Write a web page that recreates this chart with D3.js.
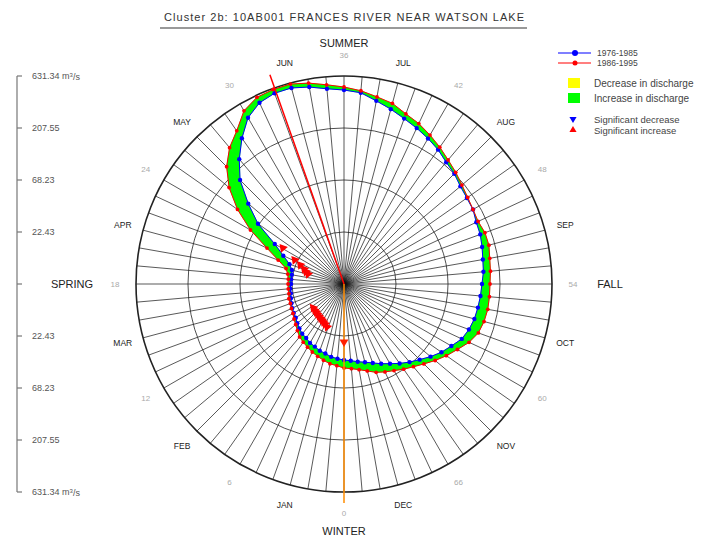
<!DOCTYPE html>
<html>
<head>
<meta charset="utf-8">
<script src="https://cdn.jsdelivr.net/npm/d3@7"></script>
<style>
  body { margin: 0; background: #fff; }
  text { font-family: "Liberation Sans", Arial, sans-serif; }
</style>
</head>
<body>
<div id="main"></div>
<script>
// ---- data (m3/s, one value per 5-day period, 0 = 1 Jan) ----
const chartTitle = "Cluster 2b: 10AB001 FRANCES RIVER NEAR WATSON LAKE";
const periodTicks = [0, 6, 12, 18, 24, 30, 36, 42, 48, 54, 60, 66];
const monthNames = ["JAN", "FEB", "MAR", "APR", "MAY", "JUN", "JUL", "AUG", "SEP", "OCT", "NOV", "DEC"];
const seasonNames = ["WINTER", "SPRING", "SUMMER", "FALL"];
const seasonPeriods = [0, 18, 36, 54];
const ringValues = [22.43, 68.23, 207.55, 631.34];
const centreValue = 7.373;
const axisLabels = ["631.34", "207.55", "68.23", "22.43"];
const seriesNames = ["1976-1985", "1986-1995"];

const flow7685 = [
  37.5, 36.7, 35.9, 34.4, 33.7, 32.3, 31.6, 30.2, 29.6, 28.4, 27.2, 26.0,
  25.5, 25.0, 24.4, 23.9, 23.4, 23.4, 22.9, 22.9, 22.9, 23.4, 25.5, 30.9,
  40.8, 69.7, 106.9, 171.2, 240.9, 332.2, 448.2, 531.8, 567.1, 567.1, 531.8, 488.2,
  467.8, 448.2, 394.2, 354.3, 318.3, 292.2, 268.2, 246.2, 221.2, 207.5, 190.4, 182.5,
  178.6, 167.5, 164.0, 157.1, 150.5, 147.3, 141.2, 138.2, 135.2, 132.4, 126.8, 118.9,
  104.6, 94.0, 82.7, 72.7, 65.3, 58.7, 52.8, 48.4, 44.5, 41.7, 39.9, 38.3
];
const flow8695 = [
  44.5, 42.6, 41.7, 39.9, 38.3, 36.7, 35.1, 33.7, 32.3, 30.2, 28.4, 27.2,
  26.0, 25.5, 25.0, 25.0, 24.4, 24.4, 24.4, 24.4, 25.0, 26.6, 33.0, 45.4,
  74.3, 118.9, 182.5, 256.9, 332.2, 402.7, 531.8, 604.6, 617.7, 617.7, 579.3, 531.8,
  498.7, 467.8, 429.5, 402.7, 354.3, 325.2, 292.2, 262.5, 235.9, 216.5, 198.7, 186.4,
  178.6, 174.8, 182.5, 182.5, 174.8, 171.2, 167.5, 167.5, 167.5, 164.0, 157.1, 141.2,
  121.5, 106.9, 94.0, 82.7, 74.3, 68.2, 62.6, 58.7, 55.1, 50.6, 47.4, 45.4
];

// significant increase markers (period, value)
const sigIncPeriod = [24.1, 23.2, 22.7, 22.1, 21.6, 21.1, 10.5, 9.7, 9.0, 8.3, 7.6, 6.9, 6.3, 5.7, 5.1, 4.3];
const sigIncValue  = [33.7, 23.9, 20.5, 18.4, 17.4, 16.4, 17.0, 17.1, 17.2, 17.4, 17.6, 17.9, 18.2, 18.6, 19.0, 19.8];
const sigArrowPeriod = [0];
const sigArrowValue = [25.5];

// timing vectors (period direction)
const timingPeriods = [32.1, 0];

class DischargeRose {
  constructor(config) {
    this.config = config;
    this.svg = null;
    this.plot = null;
    this.rScale = null;
    this.aScale = null;
    this.createSvg();
    this.createScales();
  }

  createSvg() {
    this.svg = d3.select(this.config.div)
      .append("svg")
      .attr("width", this.config.width)
      .attr("height", this.config.height);
    this.plot = this.svg.append("g")
      .attr("transform", `translate(${this.config.cx},${this.config.cy})`);
  }

  createScales() {
    this.rScale = d3.scaleLog()
      .domain([centreValue, ringValues[ringValues.length - 1]])
      .range([0, this.config.radius]);
    // period 0 at the bottom, going clockwise
    this.aScale = d3.scaleLinear().domain([0, 72]).range([Math.PI, 3 * Math.PI]);
  }

  xy(p, r) {
    let a = this.aScale(p);
    return [r * Math.sin(a), -r * Math.cos(a)];
  }

  renderTitle() {
    this.svg.append("text")
      .attr("x", 344).attr("y", 21)
      .attr("text-anchor", "middle")
      .attr("font-size", 11)
      .attr("textLength", 360)
      .attr("fill", "#333")
      .text(chartTitle);
    this.svg.append("line")
      .attr("x1", 160).attr("x2", 527)
      .attr("y1", 28).attr("y2", 28)
      .attr("stroke", "#999").attr("stroke-width", 2);
  }

  renderGrid() {
    let R = this.config.radius;
    let spokes = d3.range(72);
    this.plot.selectAll(".spoke")
      .data(spokes)
      .enter()
      .append("line")
        .attr("class", "spoke")
        .attr("x1", 0).attr("y1", 0)
        .attr("x2", d => this.xy(d, R)[0])
        .attr("y2", d => this.xy(d, R)[1])
        .attr("stroke", "#111")
        .attr("stroke-width", 0.7);

    this.plot.selectAll(".ring")
      .data(ringValues)
      .enter()
      .append("circle")
        .attr("class", "ring")
        .attr("r", d => this.rScale(d))
        .attr("fill", "none")
        .attr("stroke", "#222")
        .attr("stroke-width", (d, i) => i == ringValues.length - 1 ? 1.6 : 0.8);
  }

  renderLabels() {
    let lr = this.config.labelRadius;
    this.plot.selectAll(".ptick")
      .data(periodTicks)
      .enter()
      .append("text")
        .attr("x", d => this.xy(d, lr)[0])
        .attr("y", d => this.xy(d, lr)[1])
        .attr("text-anchor", "middle")
        .attr("dy", "0.35em")
        .attr("font-size", 8)
        .attr("fill", "#aaa")
        .text(d => d);

    this.plot.selectAll(".month")
      .data(monthNames)
      .enter()
      .append("text")
        .attr("x", (d, i) => this.xy(3 + 6 * i, lr)[0])
        .attr("y", (d, i) => this.xy(3 + 6 * i, lr)[1])
        .attr("text-anchor", "middle")
        .attr("dy", "0.35em")
        .attr("font-size", 8.5)
        .attr("fill", "#222")
        .text(d => d);

    let seasonR = [247, 272, 241, 266];
    this.plot.selectAll(".season")
      .data(seasonNames)
      .enter()
      .append("text")
        .attr("x", (d, i) => this.xy(seasonPeriods[i], seasonR[i])[0])
        .attr("y", (d, i) => this.xy(seasonPeriods[i], seasonR[i])[1])
        .attr("text-anchor", "middle")
        .attr("dy", "0.35em")
        .attr("font-size", 11)
        .attr("fill", "#222")
        .text(d => d);
  }

  renderLeftAxis() {
    let cy = this.config.cy;
    let x0 = 17;
    let ticks = [];
    axisLabels.forEach((l, i) => ticks.push({ y: cy - this.rScale(ringValues[3 - i]), label: l, unit: i == 0 }));
    ticks.push({ y: cy, label: "", unit: false });
    axisLabels.slice().reverse().forEach((l, i) => ticks.push({ y: cy + this.rScale(ringValues[i]), label: l, unit: i == 3 }));

    let g = this.svg.append("g");
    g.append("line")
      .attr("x1", x0).attr("x2", x0)
      .attr("y1", ticks[0].y).attr("y2", ticks[ticks.length - 1].y)
      .attr("stroke", "#777").attr("stroke-width", 1.2);
    g.selectAll(".tk")
      .data(ticks)
      .enter()
      .append("line")
        .attr("x1", x0).attr("x2", x0 + 5)
        .attr("y1", d => d.y).attr("y2", d => d.y)
        .attr("stroke", "#777").attr("stroke-width", 1.2);
    let txt = g.selectAll(".tl")
      .data(ticks)
      .enter()
      .append("text")
        .attr("x", 32)
        .attr("y", d => d.y)
        .attr("dy", "0.35em")
        .attr("font-size", 9)
        .attr("fill", "#555");
    txt.append("tspan").text(d => d.label);
    txt.filter(d => d.unit).append("tspan").text(" m");
    txt.filter(d => d.unit).append("tspan").attr("dy", "-0.4em").attr("font-size", 6).text("3");
    txt.filter(d => d.unit).append("tspan").attr("dy", "0.4em").text("/s");
  }

  renderFill() {
    let area = d3.areaRadial()
      .angle(d => this.aScale(d.p))
      .innerRadius(d => this.rScale(d.a))
      .outerRadius(d => this.rScale(d.b));
    let segs = d3.range(72).map(i => {
      let j = (i + 1) % 72;
      return [
        { p: i, a: flow7685[i], b: flow8695[i] },
        { p: i + 1, a: flow7685[j], b: flow8695[j] }
      ];
    });
    this.plot.selectAll(".seg")
      .data(segs)
      .enter()
      .append("path")
        .attr("d", area)
        .attr("fill", d => (d[0].b + d[1].b) >= (d[0].a + d[1].a) ? "#00ff00" : "#ffff00")
        .attr("stroke", d => (d[0].b + d[1].b) >= (d[0].a + d[1].a) ? "#00ff00" : "#ffff00")
        .attr("stroke-width", 0.5);
  }

  renderSeries(values, color, dotR) {
    let line = d3.lineRadial()
      .angle((d, i) => this.aScale(i))
      .radius(d => this.rScale(d))
      .curve(d3.curveLinearClosed);
    this.plot.append("path")
      .datum(values)
      .attr("d", line)
      .attr("fill", "none")
      .attr("stroke", color)
      .attr("stroke-width", 1);
    this.plot.append("g")
      .selectAll("circle")
      .data(values)
      .enter()
      .append("circle")
        .attr("cx", (d, i) => this.xy(i, this.rScale(d))[0])
        .attr("cy", (d, i) => this.xy(i, this.rScale(d))[1])
        .attr("r", dotR)
        .attr("fill", color);
  }

  renderTiming() {
    let colors = ["#ff0000", "#ff8c00"];
    let len = [222, 219];
    this.plot.selectAll(".timing")
      .data(timingPeriods)
      .enter()
      .append("line")
        .attr("x1", 0).attr("y1", 0)
        .attr("x2", (d, i) => this.xy(d, len[i])[0])
        .attr("y2", (d, i) => this.xy(d, len[i])[1])
        .attr("stroke", (d, i) => colors[i])
        .attr("stroke-width", 1.5);
  }

  renderSignificant() {
    let tri = d3.symbol().type(d3.symbolTriangle).size(34);
    this.plot.selectAll(".sig")
      .data(sigIncPeriod)
      .enter()
      .append("path")
        .attr("d", tri)
        .attr("transform", (d, i) => {
          let p = this.xy(d, this.rScale(sigIncValue[i]));
          return `translate(${p[0]},${p[1]}) rotate(-40)`;
        })
        .attr("fill", "#ff0000");
    this.plot.selectAll(".sigA")
      .data(sigArrowPeriod)
      .enter()
      .append("path")
        .attr("d", tri)
        .attr("transform", (d, i) => {
          let p = this.xy(d, this.rScale(sigArrowValue[i]));
          return `translate(${p[0]},${p[1]}) rotate(180)`;
        })
        .attr("fill", "#ff2000");
  }

  renderLegend() {
    let g = this.svg.append("g");
    let colors = ["#0000ff", "#ff0000"];
    seriesNames.forEach((name, i) => {
      let y = 53 + i * 10;
      g.append("line").attr("x1", 558).attr("x2", 591).attr("y1", y).attr("y2", y)
        .attr("stroke", colors[i]).attr("stroke-width", 1.2);
      g.append("circle").attr("cx", 575).attr("cy", y).attr("r", i == 0 ? 3 : 2.5).attr("fill", colors[i]);
      g.append("text").attr("x", 597).attr("y", y).attr("dy", "0.35em")
        .attr("font-size", 8.5).attr("fill", "#444").text(name);
    });
    let boxes = [["#ffff00", "Decrease in discharge"], ["#00ff00", "Increase in discharge"]];
    boxes.forEach((b, i) => {
      let y = 78 + i * 15;
      g.append("rect").attr("x", 568).attr("y", y).attr("width", 12).attr("height", 10).attr("fill", b[0]);
      g.append("text").attr("x", 594).attr("y", y + 5).attr("dy", "0.35em")
        .attr("font-size", 10).attr("fill", "#444").text(b[1]);
    });
    let tri = d3.symbol().type(d3.symbolTriangle).size(22);
    g.append("path").attr("d", tri).attr("transform", "translate(573,119) rotate(180)").attr("fill", "#0000ff");
    g.append("text").attr("x", 594).attr("y", 120).attr("dy", "0.35em")
      .attr("font-size", 9.5).attr("fill", "#444").text("Significant decrease");
    g.append("path").attr("d", tri).attr("transform", "translate(573,130)").attr("fill", "#ff0000");
    g.append("text").attr("x", 594).attr("y", 131).attr("dy", "0.35em")
      .attr("font-size", 9.5).attr("fill", "#444").text("Significant increase");
  }
}

let roseConfig = { div: "#main", width: 722, height: 539, cx: 344, cy: 284, radius: 208, labelRadius: 229 };
let rose = new DischargeRose(roseConfig);
rose.renderTitle();
rose.renderGrid();
rose.renderLabels();
rose.renderLeftAxis();
rose.renderFill();
rose.renderSeries(flow7685, "#0000ff", 2.2);
rose.renderSeries(flow8695, "#ff0000", 1.9);
rose.renderTiming();
rose.renderSignificant();
rose.renderLegend();
</script>
</body>
</html>
